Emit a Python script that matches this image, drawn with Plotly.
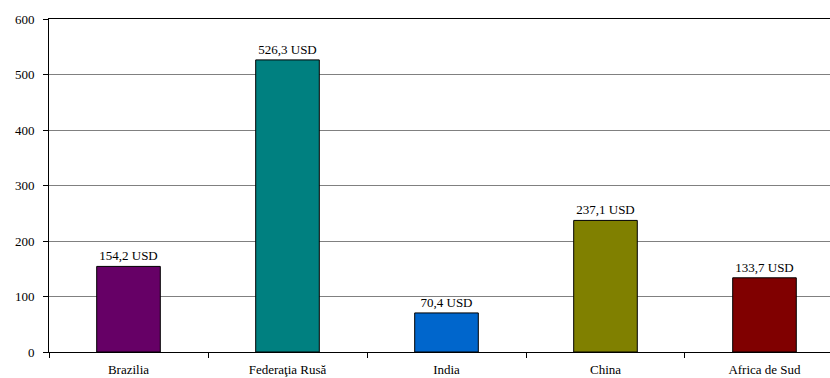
import plotly.graph_objects as go

# GDP per capita style figures for BRICS countries
countries = ["Brazilia", "Federaţia Rusă", "India", "China", "Africa de Sud"]
values = [154.2, 526.3, 70.4, 237.1, 133.7]
bar_colors = ["#660066", "#008080", "#0066CC", "#808000", "#800000"]

font_family = "Times New Roman, DejaVu Serif, serif"

fig = go.Figure(
    go.Bar(
        x=countries,
        y=values,
        width=0.4,
        marker=dict(color=bar_colors, line=dict(color="black", width=1)),
        texttemplate="%{y:.1f} USD",
        textposition="outside",
        textfont=dict(family=font_family, size=13, color="black"),
        cliponaxis=False,
    )
)

fig.update_layout(
    width=830,
    height=378,
    margin=dict(l=49, r=0, t=19, b=26),
    paper_bgcolor="white",
    plot_bgcolor="white",
    separators=", ",
    showlegend=False,
    bargap=0.6,
    font=dict(family=font_family, size=13, color="black"),
)

fig.update_xaxes(
    type="category",
    range=[-0.5, 4.412],
    tickson="boundaries",
    ticks="outside",
    ticklen=5,
    tickcolor="black",
    ticklabelstandoff=5,
    showline=True,
    linecolor="black",
    linewidth=1,
    mirror=True,
    showgrid=False,
    tickfont=dict(family=font_family, size=13, color="black"),
)

fig.update_yaxes(
    range=[0, 600],
    tickvals=[0, 100, 200, 300, 400, 500, 600],
    ticks="outside",
    ticklen=5,
    tickcolor="black",
    ticklabelstandoff=6,
    showline=True,
    linecolor="black",
    linewidth=1,
    showgrid=True,
    gridcolor="#808080",
    gridwidth=1,
    zeroline=False,
    tickfont=dict(family=font_family, size=13, color="black"),
)

fig.write_html("out.html")
